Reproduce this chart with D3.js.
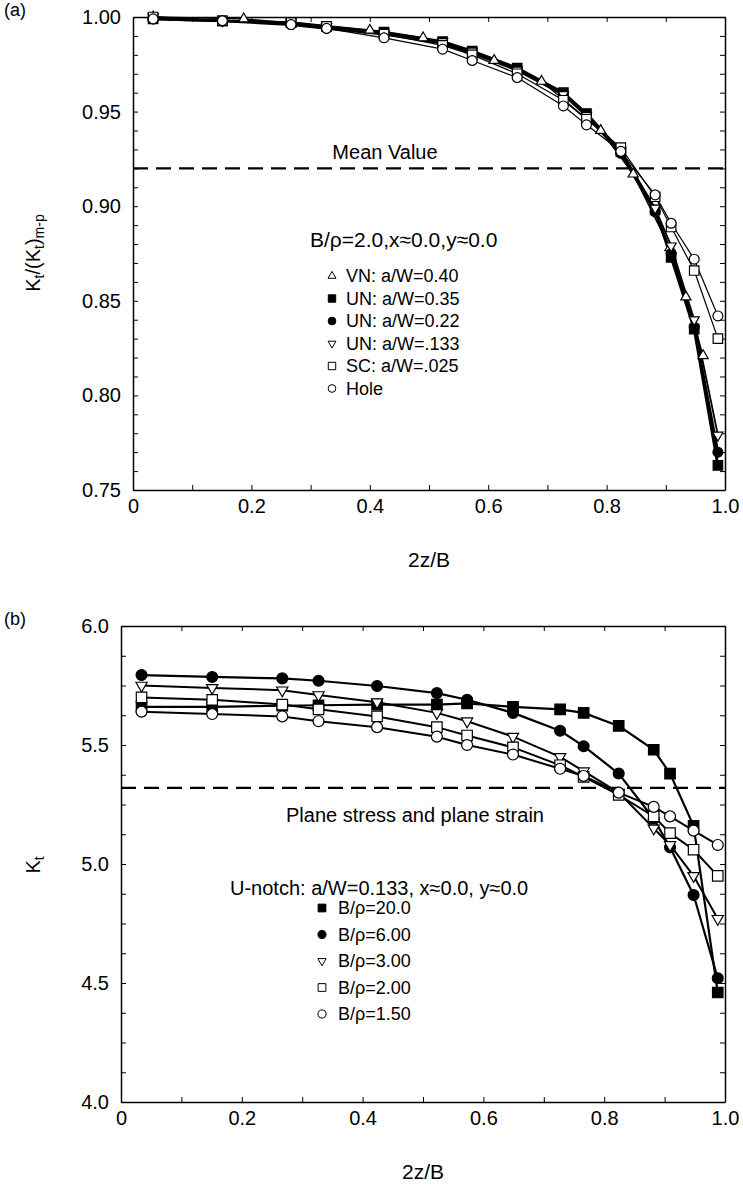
<!DOCTYPE html>
<html>
<head>
<meta charset="utf-8">
<script src="https://cdn.jsdelivr.net/npm/d3@7"></script>
<style>
  body { margin: 0; background: #fff; }
  svg { display: block; font-family: "Liberation Sans", Arial, sans-serif; }
</style>
</head>
<body>
<svg width="743" height="1190"></svg>
<script>
// z positions shared by most series (2z/B)
const zPos = [0.034, 0.151, 0.267, 0.327, 0.424, 0.523, 0.573, 0.649, 0.727, 0.766, 0.824, 0.882, 0.909, 0.948, 0.988];

// panel (a): normalised Kt
const vnZ   = [0.034, 0.187, 0.40, 0.49, 0.61, 0.69, 0.79, 0.845, 0.907, 0.934, 0.963];
const vn40  = [1.000, 0.999, 0.993, 0.989, 0.977, 0.966, 0.940, 0.917, 0.878, 0.852, 0.821];
const un35  = [0.999, 0.998, 0.997, 0.995, 0.992, 0.987, 0.982, 0.973, 0.960, 0.949, 0.929, 0.898, 0.873, 0.835, 0.763];
const un22  = [0.999, 0.998, 0.996, 0.994, 0.991, 0.986, 0.981, 0.972, 0.959, 0.948, 0.928, 0.897, 0.875, 0.836, 0.770];
const un133 = [1.000, 0.998, 0.997, 0.995, 0.991, 0.987, 0.982, 0.972, 0.959, 0.948, 0.929, 0.899, 0.879, 0.840, 0.779];
const sc025 = [1.000, 0.998, 0.997, 0.995, 0.991, 0.985, 0.980, 0.970, 0.956, 0.946, 0.931, 0.905, 0.889, 0.866, 0.830];
const hole  = [0.999, 0.998, 0.996, 0.994, 0.989, 0.983, 0.977, 0.968, 0.953, 0.943, 0.929, 0.906, 0.891, 0.872, 0.842];
const meanA = 0.92;

// panel (b): Kt for U-notch
const b20  = [5.660, 5.660, 5.665, 5.667, 5.670, 5.670, 5.675, 5.660, 5.650, 5.635, 5.580, 5.480, 5.380, 5.160, 4.460];
const b6   = [5.794, 5.786, 5.780, 5.770, 5.748, 5.718, 5.690, 5.635, 5.560, 5.495, 5.380, 5.190, 5.070, 4.870, 4.520];
const b3   = [5.750, 5.740, 5.730, 5.710, 5.680, 5.635, 5.600, 5.535, 5.450, 5.390, 5.300, 5.150, 5.080, 4.950, 4.770];
const b2   = [5.700, 5.690, 5.670, 5.650, 5.620, 5.575, 5.540, 5.490, 5.415, 5.366, 5.290, 5.200, 5.130, 5.060, 4.950];
const b15  = [5.640, 5.630, 5.620, 5.600, 5.575, 5.535, 5.500, 5.460, 5.400, 5.370, 5.300, 5.240, 5.200, 5.140, 5.080];
const meanB = 5.32;

const labelsA = ["VN: a/W=0.40", "UN: a/W=0.35", "UN: a/W=0.22", "UN: a/W=.133", "SC: a/W=.025", "Hole"];
const labelsB = ["B/\u03c1=20.0", "B/\u03c1=6.00", "B/\u03c1=3.00", "B/\u03c1=2.00", "B/\u03c1=1.50"];

const svg = d3.select("svg");

// triangles get a smaller area so they look the same width as squares
const markerPath = (shape, size) => {
    const types = { up: d3.symbolTriangle, down: d3.symbolTriangle, square: d3.symbolSquare, circle: d3.symbolCircle };
    const k = { up: 0.5, down: 0.5, square: 1, circle: 0.85 }[shape];
    return d3.symbol().type(types[shape]).size(size * k)();
};

const drawPanel = (cfg) => {
    const g = svg.append("g");
    const x = d3.scaleLinear().domain([0, 1]).range([cfg.left, cfg.right]);
    const y = d3.scaleLinear().domain(cfg.yDomain).range([cfg.bottom, cfg.top]);

    const xTicks = d3.range(0, 11).map(i => i / 10);
    const yTicks = d3.range(0, cfg.yCount + 1).map(i => cfg.yDomain[0] + i * cfg.yStep);
    const isMajX = v => Math.round(v * 10) % 2 === 0;
    const isMajY = v => Math.abs(v / cfg.yLabelStep - Math.round(v / cfg.yLabelStep)) < 1e-6;
    const fmtX = v => isMajX(v) ? (v === 0 ? "0" : d3.format(".1f")(v)) : "";
    const fmtY = v => isMajY(v) ? d3.format(cfg.yFormat)(v) : "";

    const axes = [
        [d3.axisBottom(x).tickValues(xTicks).tickFormat(fmtX).tickSizeInner(-5).tickSizeOuter(0).tickPadding(9), `translate(0,${cfg.bottom})`],
        [d3.axisTop(x).tickValues(xTicks).tickFormat("").tickSizeInner(-5).tickSizeOuter(0), `translate(0,${cfg.top})`],
        [d3.axisLeft(y).tickValues(yTicks).tickFormat(fmtY).tickSizeInner(-5).tickSizeOuter(0).tickPadding(12), `translate(${cfg.left},0)`],
        [d3.axisRight(y).tickValues(yTicks).tickFormat("").tickSizeInner(-5).tickSizeOuter(0), `translate(${cfg.right},0)`]
    ];
    axes.forEach(([ax, tr]) => {
        const a = g.append("g").attr("transform", tr).call(ax);
        a.select(".domain").attr("stroke", "#000").attr("stroke-width", 1.5);
        a.selectAll(".tick line").attr("stroke", "#000").attr("stroke-width", 1);
        a.selectAll(".tick text").attr("fill", "#000").style("font-size", "20px")
            .style("font-family", "Liberation Sans, Arial, sans-serif");
    });

    // dashed reference line
    g.append("line")
        .attr("x1", x(0)).attr("x2", x(1))
        .attr("y1", y(cfg.mean)).attr("y2", y(cfg.mean))
        .attr("stroke", "#000").attr("stroke-width", 2.2)
        .attr("stroke-dasharray", "15,8");
    g.append("text")
        .attr("x", cfg.meanText[1]).attr("y", cfg.meanText[2])
        .attr("text-anchor", "middle").style("font-size", "20px")
        .text(cfg.meanText[0]);

    // series
    const line = d3.line().x(d => x(d[0])).y(d => y(d[1]));
    cfg.series.forEach(s => {
        const pts = s.z.map((z, i) => [z, s.v[i]]);
        g.append("path").datum(pts)
            .attr("d", line)
            .attr("fill", "none").attr("stroke", "#000")
            .attr("stroke-width", s.w).attr("stroke-linejoin", "round");
    });
    cfg.series.forEach(s => {
        const pts = s.z.map((z, i) => [z, s.v[i]]);
        g.selectAll(null).data(pts).enter().append("path")
            .attr("d", markerPath(s.shape, cfg.markSize))
            .attr("transform", d => `translate(${x(d[0])},${y(d[1])})` + (s.shape === "down" ? " rotate(180)" : ""))
            .attr("fill", s.filled ? "#000" : "#fff")
            .attr("stroke", "#000").attr("stroke-width", 1.2);
    });

    // annotation + legend
    g.append("text")
        .attr("x", cfg.legend.titleX).attr("y", cfg.legend.titleY)
        .style("font-size", cfg.legend.titleFont).text(cfg.legend.title);
    cfg.series.forEach((s, i) => {
        const cy = cfg.legend.y0 + i * cfg.legend.dy;
        g.append("path")
            .attr("d", markerPath(s.shape, cfg.legend.size))
            .attr("transform", `translate(${cfg.legend.mx},${cy})` + (s.shape === "down" ? " rotate(180)" : ""))
            .attr("fill", s.filled ? "#000" : "#fff")
            .attr("stroke", "#000").attr("stroke-width", 1);
        g.append("text")
            .attr("x", cfg.legend.tx).attr("y", cy + 6)
            .style("font-size", cfg.legend.font).text(cfg.labels[i]);
    });

    // x title
    g.append("text")
        .attr("x", (cfg.left + cfg.right) / 2).attr("y", cfg.bottom + 77)
        .attr("text-anchor", "middle").style("font-size", "21px").text("2z/B");

    // panel letter
    g.append("text").attr("x", 4).attr("y", cfg.top - 1).style("font-size", "18px").text(cfg.letter);

    return { x, y, g };
};

// panel (a)
const pa = drawPanel({
    left: 133, right: 725, top: 17, bottom: 490,
    yDomain: [0.75, 1.0], yStep: 0.01, yCount: 25, yLabelStep: 0.05, yFormat: ".2f",
    mean: meanA, meanText: ["Mean Value", 385, 159],
    letter: "(a)", markSize: 90,
    labels: labelsA,
    legend: { title: "B/\u03c1=2.0,x\u22480.0,y\u22480.0", titleX: 310, titleY: 247, titleFont: "21px",
              y0: 276, dy: 22.5, mx: 332, tx: 346, size: 55, font: "18px" },
    series: [
        { z: vnZ,  v: vn40,  shape: "up",     filled: false, w: 1.4 },
        { z: zPos, v: un35,  shape: "square", filled: true,  w: 2.8 },
        { z: zPos, v: un22,  shape: "circle", filled: true,  w: 2.8 },
        { z: zPos, v: un133, shape: "down",   filled: false, w: 1.8 },
        { z: zPos, v: sc025, shape: "square", filled: false, w: 1.2 },
        { z: zPos, v: hole,  shape: "circle", filled: false, w: 1.2 }
    ]
});

// y title (a): Kt/(Kt)m-p
pa.g.append("text")
    .attr("transform", "translate(40,253) rotate(-90)")
    .attr("text-anchor", "middle").style("font-size", "20px")
    .call(t => {
        t.append("tspan").text("K");
        t.append("tspan").attr("baseline-shift", "-30%").style("font-size", "14px").text("t");
        t.append("tspan").text("/(K");
        t.append("tspan").attr("baseline-shift", "-30%").style("font-size", "14px").text("t");
        t.append("tspan").text(")");
        t.append("tspan").attr("baseline-shift", "-30%").style("font-size", "14px").text("m-p");
    });

// panel (b)
const pb = drawPanel({
    left: 121, right: 725, top: 626, bottom: 1102,
    yDomain: [4.0, 6.0], yStep: 0.125, yCount: 16, yLabelStep: 0.5, yFormat: ".1f",
    mean: meanB, meanText: ["Plane stress and plane strain", 415, 822],
    letter: "(b)", markSize: 110,
    labels: labelsB,
    legend: { title: "U-notch: a/W=0.133, x\u22480.0, y\u22480.0", titleX: 230, titleY: 895, titleFont: "20px",
              y0: 908, dy: 26.5, mx: 322, tx: 338, size: 60, font: "18px" },
    series: [
        { z: zPos, v: b20, shape: "square", filled: true,  w: 2.2 },
        { z: zPos, v: b6,  shape: "circle", filled: true,  w: 2.2 },
        { z: zPos, v: b3,  shape: "down",   filled: false, w: 2.0 },
        { z: zPos, v: b2,  shape: "square", filled: false, w: 2.0 },
        { z: zPos, v: b15, shape: "circle", filled: false, w: 2.0 }
    ]
});

pb.g.append("text")
    .attr("transform", "translate(40,865) rotate(-90)")
    .attr("text-anchor", "middle").style("font-size", "20px")
    .call(t => {
        t.append("tspan").text("K");
        t.append("tspan").attr("baseline-shift", "-30%").style("font-size", "14px").text("t");
    });
</script>
</body>
</html>
